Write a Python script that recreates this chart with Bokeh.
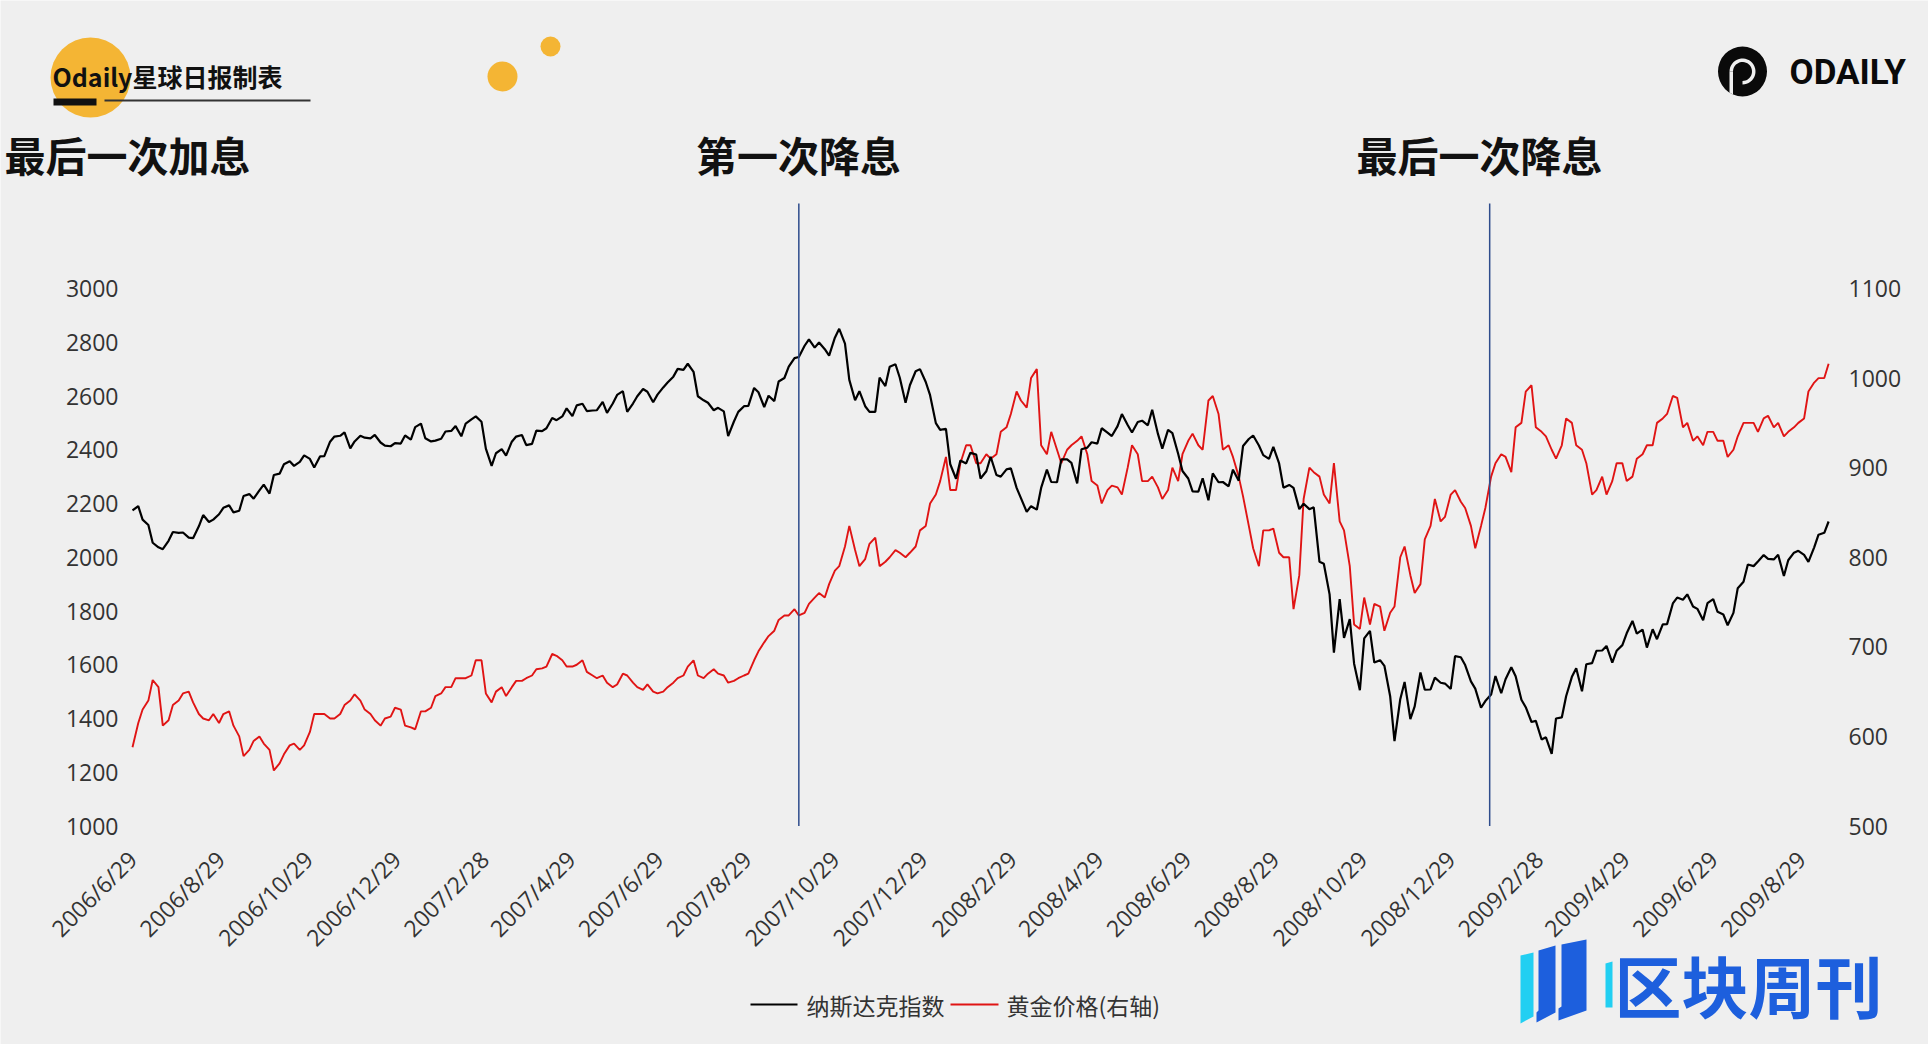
import math
import re
from datetime import datetime
import numpy as np
import pandas as pd
from bokeh.plotting import figure
from bokeh.models import Range1d, LinearAxis, FixedTicker
from bokeh.core.properties import value
from bokeh.embed import file_html
from bokeh.resources import INLINE

# ---------------- data ----------------
start_date = "2006-06-29"
tick_labels = ["2006/6/29", "2006/8/29", "2006/10/29", "2006/12/29", "2007/2/28",
               "2007/4/29", "2007/6/29", "2007/8/29", "2007/10/29", "2007/12/29",
               "2008/2/29", "2008/4/29", "2008/6/29", "2008/8/29", "2008/10/29",
               "2008/12/29", "2009/2/28", "2009/4/29", "2009/6/29", "2009/8/29"]
cut_dates = ["2007-10-04", "2009-01-25"]
titles = ["最后一次加息", "第一次降息", "最后一次降息"]
series_names = ["纳斯达克指数", "黄金价格(右轴)"]
left_ticks = [1000, 1200, 1400, 1600, 1800, 2000, 2200, 2400, 2600, 2800, 3000]
right_ticks = [500, 600, 700, 800, 900, 1000, 1100]

# readings on Thursdays (from 2006-06-29) ...
nasdaq_thu = [
    2174, 2140, 2054, 2030, 2094, 2092, 2071, 2157, 2140, 2184, 2167, 2228, 2218, 2270,
    2306, 2346, 2340, 2379, 2334, 2376, 2449, 2465, 2431, 2445, 2455, 2415, 2425,
    2453, 2484, 2443, 2434, 2468, 2488, 2497, 2524, 2404, 2387, 2378, 2449, 2417, 2471,
    2480, 2510, 2554, 2565, 2544, 2547, 2537, 2604, 2541, 2599, 2616, 2605, 2650, 2701,
    2720, 2599, 2575, 2556, 2451, 2541, 2563, 2614, 2601, 2654, 2709, 2745, 2811, 2799,
    2750, 2850, 2660, 2618, 2541, 2668, 2709, 2668, 2640, 2700,
    2603, 2474, 2346, 2360, 2389, 2293, 2374, 2300, 2331, 2220, 2190, 2258, 2280, 2364,
    2351, 2402, 2428, 2480, 2451, 2533, 2464, 2508, 2549, 2404, 2462, 2321, 2245, 2294,
    2312, 2280, 2326, 2414, 2453, 2380, 2411, 2259, 2258, 2199, 2186, 1976, 1645, 1700,
    1604, 1698, 1608, 1596, 1316, 1536, 1445, 1507, 1552, 1530,
    1632, 1599, 1511, 1465, 1558, 1546, 1557, 1442, 1391, 1330, 1400, 1483, 1587, 1602,
    1652, 1670, 1652, 1717, 1716, 1664, 1695, 1751, 1850, 1862, 1808, 1829, 1797, 1747,
    1885, 1973, 1984, 1994, 2009, 1989, 2024, 1983, 2084, 2133,
]
# ... and on the Monday before each later Thursday
nasdaq_mon = [
    2190, 2120, 2037, 2061, 2091, 2073, 2115, 2131, 2160, 2193, 2173, 2235, 2249,
    2237, 2311, 2357, 2355, 2366, 2375, 2430, 2452, 2405, 2452, 2442, 2427, 2413,
    2423, 2438, 2497, 2431, 2441, 2470, 2450, 2513, 2504, 2340, 2402, 2430, 2455, 2422,
    2469, 2518, 2524, 2525, 2571, 2546, 2578, 2572, 2618, 2572, 2626, 2577, 2632, 2672,
    2697, 2690, 2584, 2547, 2543, 2505, 2562, 2630, 2559, 2581, 2667, 2741, 2787, 2780,
    2774, 2817, 2795, 2584, 2562, 2541, 2637, 2718, 2575, 2692, 2652,
    2499, 2478, 2292, 2349, 2382, 2320, 2306, 2327, 2258, 2169, 2177, 2326, 2279, 2364,
    2275, 2408, 2423, 2464, 2488, 2492, 2503, 2491, 2459, 2474, 2385, 2293, 2244, 2212,
    2279, 2264, 2285, 2440, 2416, 2366, 2349, 2269, 2179, 2179, 1983, 1862, 1844, 1770,
    1505, 1726, 1617, 1483, 1472, 1398, 1571, 1508, 1533, 1510,
    1628, 1538, 1440, 1489, 1494, 1591, 1470, 1387, 1322, 1268, 1404, 1555, 1501, 1606,
    1653, 1608, 1673, 1763, 1731, 1732, 1750, 1828, 1842, 1817, 1766, 1844, 1787, 1793,
    1909, 1967, 2008, 1992, 1930, 2017, 2009, 2037, 2091,
]
gold_thu = [
    588, 630, 663, 612, 635, 648, 638, 620, 625, 625, 612, 578, 595, 592,
    562, 580, 592, 590, 625, 625, 620, 635, 647, 630, 618, 620, 632,
    612, 608, 628, 645, 655, 665, 665, 685, 648, 650, 645, 662, 665, 675,
    678, 690, 678, 680, 672, 665, 660, 658, 668, 655, 658, 648, 655, 665,
    678, 668, 670, 670, 660, 665, 670, 695, 712, 730, 735, 735, 748, 760,
    770, 790, 835, 790, 815, 790, 800, 805, 805, 830,
    860, 885, 875, 905, 925, 905, 910, 940, 960, 975, 1000, 925, 940, 905,
    925, 935, 885, 860, 880, 870, 925, 885, 890, 865, 900, 915, 938, 920,
    980, 920, 912, 868, 810, 830, 832, 800, 742, 865, 895, 870, 905, 830,
    725, 755, 748, 718, 745, 812, 760, 820, 865, 845,
    875, 855, 810, 855, 905, 912, 945, 985, 945, 935, 910, 955, 925, 905,
    875, 870, 905, 885, 910, 925, 950, 960, 978, 950, 935, 940, 930, 912,
    935, 950, 940, 958, 950, 940, 950, 985, 1000, 1016,
]
gold_mon = [
    615, 640, 655, 618, 640, 650, 625, 618, 615, 628, 600, 585, 600,
    585, 570, 590, 585, 605, 625, 620, 625, 640, 640, 625, 612, 622,
    630, 610, 628, 632, 648, 655, 665, 668, 685, 638, 655, 655, 662, 668,
    676, 692, 685, 678, 685, 668, 668, 655, 670, 660, 652, 650, 650, 660,
    668, 685, 665, 675, 668, 662, 668, 685, 705, 718, 735, 742, 738, 755,
    755, 785, 812, 808, 798, 822, 795, 808, 800, 812, 835,
    870, 912, 875, 925, 905, 915, 915, 945, 985, 967, 1010, 915, 920, 920,
    930, 915, 880, 875, 878, 900, 915, 885, 878, 875, 885, 930, 925, 975,
    960, 925, 890, 835, 790, 830, 805, 800, 780, 900, 890, 860, 840, 790,
    720, 725, 745, 738, 800, 780, 770, 835, 840, 870,
    862, 835, 835, 890, 915, 895, 950, 992, 940, 920, 925, 950, 920, 870,
    890, 885, 905, 890, 915, 925, 955, 980, 945, 930, 925, 940, 930, 920,
    950, 950, 955, 945, 935, 945, 955, 995, 1000,
]

# ---------------- derived positions ----------------
t0 = pd.Timestamp(start_date)
thu_dates = pd.date_range(start_date, periods=len(nasdaq_thu), freq="7D")
mon_dates = thu_dates[1:] - pd.Timedelta(days=3)
xdays = [0]
nasdaq = [nasdaq_thu[0]]
gold = [gold_thu[0]]
for i in range(1, len(thu_dates)):
    xdays += [(mon_dates[i - 1] - t0).days, (thu_dates[i] - t0).days]
    nasdaq += [nasdaq_mon[i - 1], nasdaq_thu[i]]
    gold += [gold_mon[i - 1], gold_thu[i]]
tick_days = [(pd.Timestamp(datetime.strptime(t, "%Y/%m/%d")) - t0).days for t in tick_labels]
cut_days = [(pd.Timestamp(d) - t0).days for d in cut_dates]

# ---------------- canvas geometry (pixels) ----------------
W, H = 1928, 1044
PX_L, PX_R, DAY_END = 132, 1831, 1178       # plot area left/right
PY_LO, PY_HI = 825.5, 288.0                 # pixel rows of 1000 / 3000 (500 / 1100)
kx = (PX_R - PX_L) / DAY_END
ky = (PY_LO - PY_HI) / 2000.0
kg = (PY_LO - PY_HI) / 600.0

BG = "#EFEFEF"
RED = "#E01414"
YEL = "#F4B534"
CYAN, BLUE = "#22CFF2", "#1D5FDD"
CJK = "Noto Sans CJK SC"

p = figure(width=W, height=H, output_backend="svg", toolbar_location=None,
           x_range=Range1d(-PX_L / kx, DAY_END + (W - PX_R) / kx),
           y_range=Range1d(1000 - (H - PY_LO) / ky, 3000 + PY_HI / ky),
           x_axis_location=None, y_axis_location=None,
           min_border=0, min_border_left=0, min_border_right=0,
           min_border_top=0, min_border_bottom=0,
           background_fill_color=BG, border_fill_color=BG, outline_line_color=None)
p.extra_y_ranges = {"gold": Range1d(500 - (H - PY_LO) / kg, 1100 + PY_HI / kg),
                    "py": Range1d(H, 0)}
p.extra_x_ranges = {"px": Range1d(0, W)}
p.xgrid.visible = False
p.ygrid.visible = False


def style_axis(ax, standoff):
    ax.axis_line_color = None
    ax.major_tick_line_color = None
    ax.minor_tick_line_color = None
    ax.major_tick_out = 0
    ax.major_tick_in = 0
    ax.minor_tick_out = 0
    ax.minor_tick_in = 0
    ax.major_label_text_font = "Open Sans"
    ax.major_label_text_font_size = "23px"
    ax.major_label_text_color = "#333333"
    ax.major_label_standoff = standoff


ax_b = LinearAxis(fixed_location=1000, ticker=FixedTicker(ticks=tick_days),
                  major_label_overrides={d: lab for d, lab in zip(tick_days, tick_labels)},
                  major_label_orientation=math.pi / 4)
style_axis(ax_b, 29)
p.add_layout(ax_b, "below")

ax_l = LinearAxis(fixed_location=0, ticker=FixedTicker(ticks=left_ticks))
style_axis(ax_l, 14)
p.add_layout(ax_l, "left")

ax_r = LinearAxis(fixed_location=DAY_END, y_range_name="gold",
                  ticker=FixedTicker(ticks=right_ticks))
style_axis(ax_r, 17)
p.add_layout(ax_r, "right")

# ---------------- series ----------------
p.line(xdays, gold, y_range_name="gold", line_color=RED, line_width=1.9)
p.line(xdays, nasdaq, line_color="#000000", line_width=2.2)

# rate-cut marker lines
p.segment(x0=cut_days, x1=cut_days, y0=[203] * len(cut_days), y1=[PY_LO] * len(cut_days),
          y_range_name="py", line_color="#2E4C8C", line_width=1.5)

# ---------------- decorations (pixel space) ----------------
D = dict(x_range_name="px", y_range_name="py")

p.ellipse(x=[90, 502, 550], y=[77, 76, 46], width=[80, 30, 20], height=[80, 30, 20],
          fill_color=YEL, line_color=None, **D)
p.quad(left=[53, 104], right=[96, 310], top=[98, 99], bottom=[105, 101],
       fill_color=["#111111", "#333333"], line_color=None, **D)
p.text(x=[52], y=[75], text=["Odaily星球日报制表"], text_align="left", text_baseline="middle",
       text_font=value(CJK), text_font_style="bold", text_font_size=value("25px"),
       text_color="#111111", **D)
p.text(x=[127, 798, 1479], y=[153, 153, 153], text=titles, text_align="center",
       text_baseline="middle", text_font=value(CJK), text_font_style="bold",
       text_font_size=value("41px"), text_color="#111111", **D)

# ODAILY logo
lcx, lcy = 1742, 71
p.ellipse(x=[lcx], y=[lcy], width=[49], height=[50], fill_color="#0A0A0A",
          line_color=None, **D)
ring_x, ring_y = [], []
for a in np.linspace(math.pi, -math.pi / 2, 30):
    ring_x.append(lcx + 13 * math.cos(a)); ring_y.append(lcy - 13 * math.sin(a))
for a in np.linspace(-math.pi / 2, math.pi, 30):
    ring_x.append(lcx + 9.5 * math.cos(a)); ring_y.append(lcy - 9.5 * math.sin(a))
p.patch(ring_x, ring_y, fill_color=BG, line_color=None, **D)
p.patch([lcx - 13, lcx - 9.5, lcx - 9.5, lcx - 13], [lcy, lcy, lcy + 23, lcy + 21],
        fill_color=BG, line_color=None, **D)
p.text(x=[1789], y=[72], text=["ODAILY"], text_align="left", text_baseline="middle",
       text_font=value("Roboto"), text_font_style="bold",
       text_font_size=value("35px"), text_color="#0A0A0A", **D)

# legend (manual)
p.segment(x0=[750, 950], y0=[1004, 1004], x1=[797, 998], y1=[1004, 1004],
          line_color=["#000000", RED], line_width=[2.2, 1.9], **D)
p.text(x=[806, 1006], y=[1004, 1004], text=series_names, text_align="left",
       text_baseline="middle", text_font=value(CJK), text_font_size=value("23px"),
       text_color="#333333", **D)

# 区块周刊 logo
p.patches(xs=[[1520, 1533, 1533, 1520],
              [1538, 1555, 1555, 1536, 1536, 1538],
              [1561, 1586, 1586, 1558, 1558, 1561],
              [1605, 1612, 1612, 1605]],
          ys=[[955, 952, 1016, 1023],
              [950, 945, 1012, 1022, 1012, 1010],
              [944, 939, 1010, 1020, 1008, 1006],
              [963, 961, 1007, 1007]],
          fill_color=[CYAN, BLUE, BLUE, CYAN], line_color=None, **D)
p.text(x=[1614], y=[983], text=["区块周刊"], text_align="left", text_baseline="middle",
       text_font=value(CJK), text_font_style="bold", text_font_size=value("67px"),
       text_color=BLUE, **D)

html = file_html(p, INLINE, title="chart")
html = re.sub(r"<body([^>]*)>", r'<body\1 style="margin:0;background:#EFEFEF;">', html, count=1)
open("out.html", "w").write(html)
